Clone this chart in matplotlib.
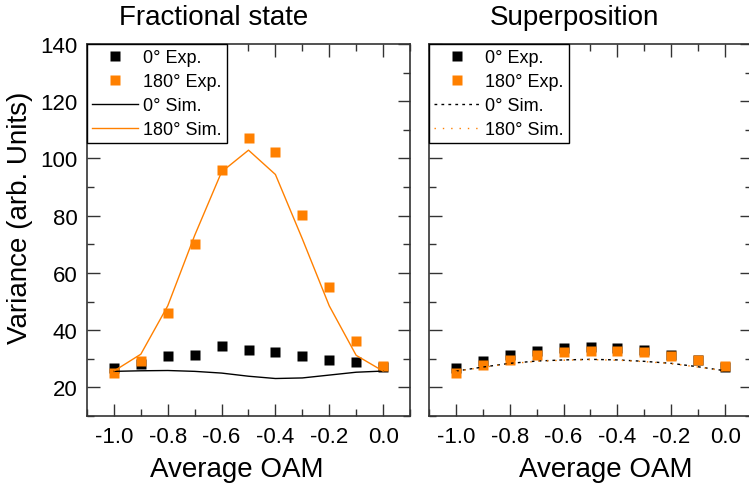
import matplotlib
matplotlib.use('Agg')
import matplotlib.pyplot as plt
from matplotlib.ticker import MultipleLocator
import numpy as np

plt.rcParams['font.family'] = ['Liberation Sans', 'DejaVu Sans']

oam = np.array([-1.0, -0.9, -0.8, -0.7, -0.6, -0.5, -0.4, -0.3, -0.2, -0.1, 0.0])

# fractional state
frac_exp0 = [26.9, 28.0, 31.0, 31.2, 34.3, 33.1, 32.2, 30.8, 29.6, 29.0, 27.0]
frac_exp180 = [25.2, 29.2, 45.9, 70.2, 95.9, 107.0, 102.1, 80.4, 55.2, 36.3, 27.3]
frac_sim0 = [25.6, 25.8, 25.9, 25.6, 25.0, 23.9, 23.1, 23.3, 24.3, 25.3, 25.7]
frac_sim180 = [25.7, 31.6, 48.5, 73.1, 95.3, 102.9, 94.4, 71.9, 48.5, 31.2, 25.7]

# superposition
sup_exp0 = [26.8, 29.2, 31.2, 32.7, 33.7, 34.0, 33.8, 33.0, 31.4, 29.5, 27.1]
sup_exp180 = [25.2, 27.7, 29.6, 31.3, 32.2, 32.6, 32.6, 32.2, 31.1, 29.6, 27.5]
sup_sim0 = [25.7, 27.1, 28.4, 29.2, 29.6, 29.8, 29.6, 29.1, 28.4, 27.2, 25.8]
sup_sim180 = [25.6, 27.0, 28.3, 29.1, 29.5, 29.7, 29.5, 29.0, 28.3, 27.1, 25.7]

orange = '#ff8000'
spcol = '#333333'

fig = plt.figure(figsize=(7.49, 4.89), dpi=100)
ax1 = fig.add_axes([87/749, 1-417/489, 323/749, 372/489])
ax2 = fig.add_axes([429/749, 1-417/489, 323/749, 372/489])

ax1.plot(oam, frac_exp0, 's', color='k', ms=7, mec='none', label='0° Exp.')
ax1.plot(oam, frac_exp180, 's', color=orange, ms=7, mec='none', label='180° Exp.')
ax1.plot(oam, frac_sim0, '-', color='k', lw=1.0, label='0° Sim.')
ax1.plot(oam, frac_sim180, '-', color=orange, lw=1.0, label='180° Sim.')

ax2.plot(oam, sup_exp0, 's', color='k', ms=7, mec='none', label='0° Exp.')
ax2.plot(oam, sup_exp180, 's', color=orange, ms=7, mec='none', label='180° Exp.')
ax2.plot(oam, sup_sim0, color='k', lw=1.0, ls=(0, (2, 3)), label='0° Sim.')
ax2.plot(oam, sup_sim180, color=orange, lw=1.0, ls=(0, (1, 5)), label='180° Sim.')

for ax in (ax1, ax2):
  ax.set_xlim(-1.1, 0.1)
  ax.set_ylim(10, 140)
  ax.xaxis.set_major_locator(MultipleLocator(0.2))
  ax.xaxis.set_minor_locator(MultipleLocator(0.1))
  ax.yaxis.set_major_locator(MultipleLocator(20))
  ax.yaxis.set_minor_locator(MultipleLocator(10))
  ax.tick_params(which='both', direction='in', top=True, right=True, color=spcol, width=1.0)
  ax.tick_params(which='major', length=9, labelsize=16, pad=7)
  ax.tick_params(which='minor', length=5)
  for s in ax.spines.values():
    s.set_color(spcol); s.set_linewidth(1.2)
  ax.xaxis.set_major_formatter(matplotlib.ticker.FormatStrFormatter('%.1f'))
  leg = ax.legend(loc='upper left', fontsize=13, frameon=True, fancybox=False, framealpha=1,
                  edgecolor='k', borderaxespad=0, borderpad=0.3, labelspacing=0.38,
                  handlelength=2.5, handletextpad=0.3)
  leg.get_frame().set_linewidth(1.0)

ax2.tick_params(labelleft=False)

fig.text(214/749, 1-18/489, 'Fractional state', ha='center', va='center', fontsize=20)
fig.text(574/749, 1-18/489, 'Superposition', ha='center', va='center', fontsize=20)
fig.text(237/749, 1-470/489, 'Average OAM', ha='center', va='center', fontsize=20)
fig.text(606/749, 1-470/489, 'Average OAM', ha='center', va='center', fontsize=20)
fig.text(20/749, 1-218/489, 'Variance (arb. Units)', ha='center', va='center', rotation=90, fontsize=20)

fig.savefig('out.png', dpi=100)
